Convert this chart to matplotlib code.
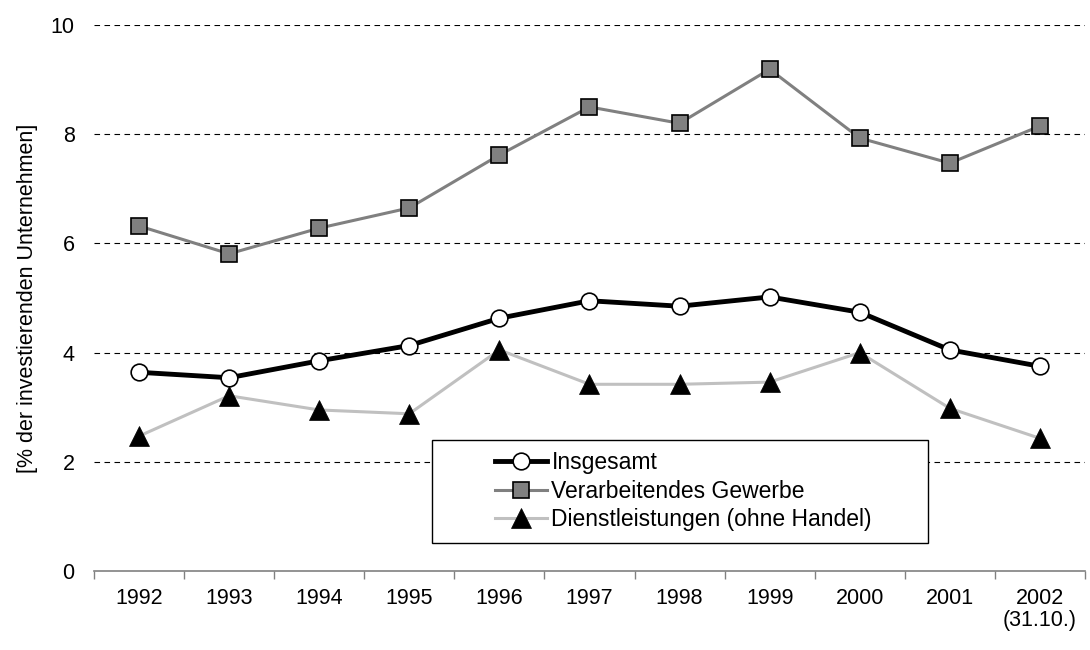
import matplotlib
matplotlib.use("Agg")
import matplotlib.pyplot as plt
from matplotlib.patches import Rectangle
import numpy as np

years = ["1992", "1993", "1994", "1995", "1996", "1997", "1998", "1999", "2000", "2001", "2002\n(31.10.)"]
insgesamt = [3.64, 3.54, 3.85, 4.13, 4.63, 4.95, 4.85, 5.02, 4.74, 4.05, 3.75]
verarbeitend = [6.32, 5.81, 6.28, 6.65, 7.62, 8.50, 8.20, 9.19, 7.93, 7.47, 8.15]
dienst = [2.47, 3.21, 2.95, 2.88, 4.05, 3.42, 3.42, 3.46, 4.00, 2.98, 2.43]

plt.rcParams["font.family"] = ["Liberation Sans", "DejaVu Sans"]
plt.rcParams["font.size"] = 15.5

fig = plt.figure(figsize=(10.9, 6.5), dpi=100)
ax = fig.add_axes([0.0862, 0.1215, 0.9092, 0.84])

x = np.arange(len(years))
ax.plot(x, insgesamt, color="black", lw=3.5, marker="o", ms=12,
        mfc="white", mec="black", mew=1.2, label="Insgesamt", zorder=4)
ax.plot(x, verarbeitend, color="#808080", lw=2.2, marker="s", ms=11,
        mfc="#808080", mec="black", mew=1.2, label="Verarbeitendes Gewerbe", zorder=3)
ax.plot(x, dienst, color="#c0c0c0", lw=2.2, marker="^", ms=14,
        mfc="black", mec="black", mew=0.5, label="Dienstleistungen (ohne Handel)", zorder=3)

ax.set_xlim(-0.5, len(years) - 0.5)
ax.set_ylim(0, 10)
ax.set_yticks([0, 2, 4, 6, 8, 10])
ax.set_xticks(x)
ax.set_xticklabels(years, linespacing=1.1)
ax.set_xticks(np.arange(-0.5, len(years)), minor=True)
ax.tick_params(axis="x", which="major", length=0, pad=12)
ax.tick_params(axis="x", which="minor", length=6, color="#808080", width=1)
ax.tick_params(axis="y", length=0, pad=14)

for v in [2, 4, 6, 8, 10]:
    ax.axhline(v, color="black", lw=0.8, ls=(0, (5, 4)), zorder=1)

for s in ["left", "right", "top"]:
    ax.spines[s].set_visible(False)
ax.spines["bottom"].set_color("#808080")
ax.spines["bottom"].set_linewidth(1.2)

ax.set_ylabel("[% der investierenden Unternehmen]", labelpad=9)

# legend box drawn separately (it is wider than its contents)
box = Rectangle((0.341, 0.0513), 0.5006, 0.1886, transform=ax.transAxes,
                facecolor="white", edgecolor="black", lw=1.0, zorder=5)
ax.add_patch(box)
leg = ax.legend(loc="upper left", bbox_to_anchor=(0.405, 0.22), frameon=False,
                fontsize=16.5, handlelength=2.25, handletextpad=0.2, labelspacing=0.25,
                borderpad=0.0, borderaxespad=0.0)
leg.set_zorder(6)

fig.savefig("out.png", dpi=100)
